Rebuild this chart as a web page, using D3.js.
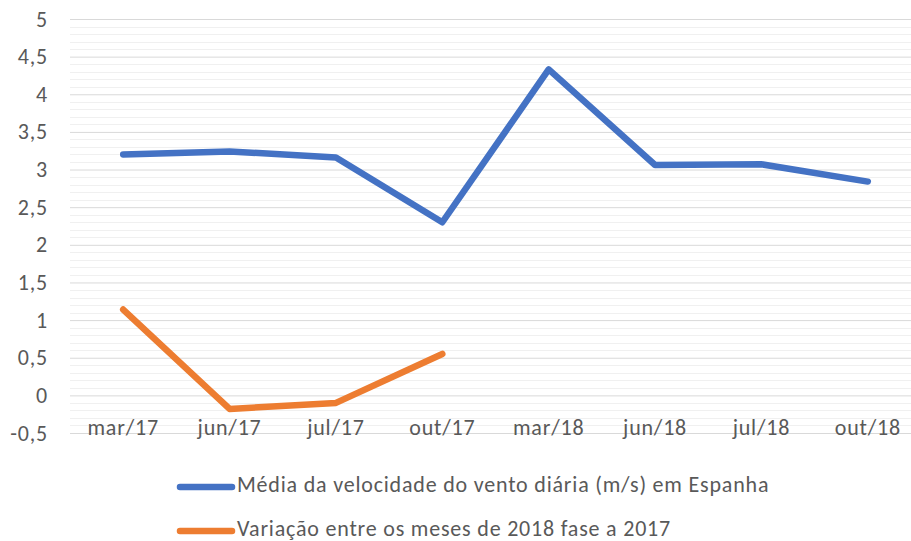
<!DOCTYPE html>
<html lang="pt">
<head>
    <meta charset="UTF-8">
    <title>Velocidade do vento</title>
    <script src="https://cdn.jsdelivr.net/npm/d3@7"></script>
    <style>
        body { margin: 0; background: #fff; }
        text { font-family: Carlito, Lato, "Open Sans", sans-serif; fill: #595959; letter-spacing: 0.8px; }
    </style>
</head>
<body>
<script>

    // dados
    var categorias = ["mar/17", "jun/17", "jul/17", "out/17", "mar/18", "jun/18", "jul/18", "out/18"];
    var mediaVento = [3.20, 3.24, 3.16, 2.30, 4.33, 3.06, 3.07, 2.84];
    var variacao = [1.14, -0.18, -0.10, 0.55];
    var ticksY = [-0.5, 0, 0.5, 1, 1.5, 2, 2.5, 3, 3.5, 4, 4.5, 5];
    var nomesSeries = ["Média da velocidade do vento diária (m/s) em Espanha",
                       "Variação entre os meses de 2018 fase a 2017"];

    var width = 911, height = 541;
    var svg = d3.select("body").append("svg")
        .attr("width", width)
        .attr("height", height);

    // área do gráfico
    var esq = 70, dir = 921, topo = 19, base = 433;
    var tamFonte = 22;

    var x = d3.scalePoint()
        .domain(categorias)
        .range([esq, dir])
        .padding(0.5);

    var y = d3.scaleLinear()
        .domain([-0.5, 5])
        .range([base, topo]);

    var fmt = function (d) { return String(d).replace(".", ","); };

    // linhas de grelha secundárias
    var minor = d3.range(-5, 51).map(function (i) { return i / 10; })
        .filter(function (v) { return Math.round(v * 10) % 5 !== 0; });
    svg.append("g").selectAll("line")
        .data(minor)
        .enter().append("line")
        .attr("x1", esq).attr("x2", dir)
        .attr("y1", function (d) { return Math.round(y(d)) + 0.5; })
        .attr("y2", function (d) { return Math.round(y(d)) + 0.5; })
        .attr("stroke", "#f0f0f0")
        .attr("stroke-width", 1);

    // linhas principais + eixo y
    var gy = svg.append("g")
        .attr("transform", "translate(" + esq + ",0)")
        .call(d3.axisLeft(y).tickValues(ticksY).tickFormat(fmt)
            .tickSize(-(dir - esq)).tickPadding(22));
    gy.select(".domain").remove();
    gy.selectAll(".tick line")
        .attr("stroke", "#d9d9d9");
    gy.selectAll(".tick text")
        .attr("font-size", tamFonte)
        .attr("fill", "#595959")
        .attr("font-family", null);

    // eixo x
    svg.append("g").selectAll("text")
        .data(categorias)
        .enter().append("text")
        .attr("x", function (d) { return x(d); })
        .attr("y", 435)
        .attr("text-anchor", "middle")
        .attr("font-size", tamFonte)
        .text(function (d) { return d; });

    var linha = d3.line()
        .x(function (d, i) { return x(categorias[i]); })
        .y(function (d) { return y(d); });

    var cores = ["#4472c4", "#ed7d31"];

    [mediaVento, variacao].forEach(function (serie, i) {
        svg.append("path")
            .datum(serie)
            .attr("d", linha)
            .attr("fill", "none")
            .attr("stroke", cores[i])
            .attr("stroke-width", 6.5)
            .attr("stroke-linecap", "round")
            .attr("stroke-linejoin", "round");
    });

    // legenda
    var leg = svg.append("g").selectAll("g")
        .data(nomesSeries)
        .enter().append("g")
        .attr("transform", function (d, i) { return "translate(180," + (487 + i * 44) + ")"; });
    leg.append("line")
        .attr("x1", 0).attr("x2", 52)
        .attr("stroke", function (d, i) { return cores[i]; })
        .attr("stroke-width", 6.5)
        .attr("stroke-linecap", "round");
    leg.append("text")
        .attr("x", 57)
        .attr("y", 5)
        .attr("font-size", tamFonte)
        .text(function (d) { return d; });

</script>
</body>
</html>
